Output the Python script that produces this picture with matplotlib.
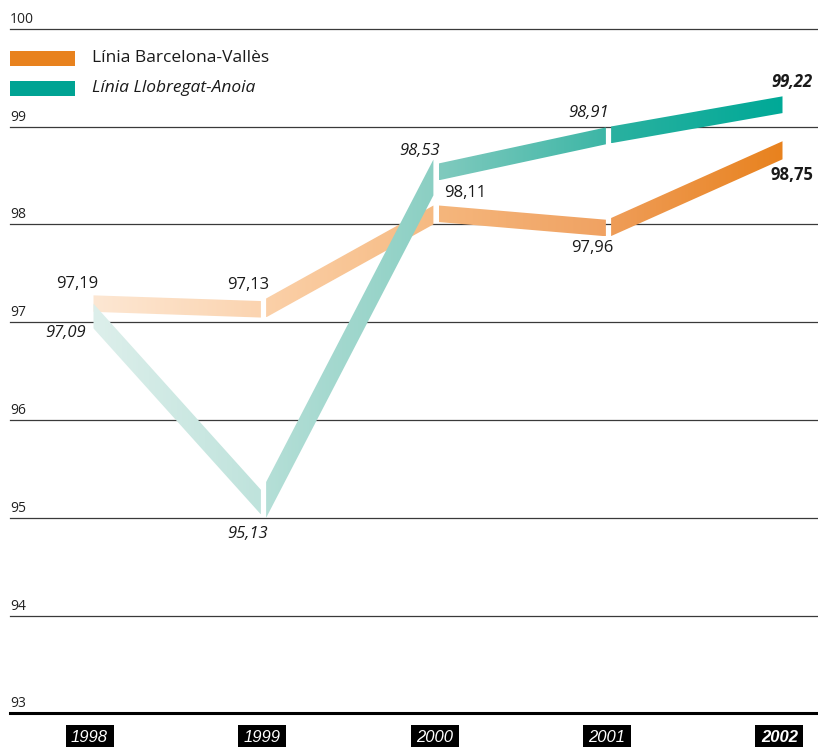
import numpy as np
import matplotlib
matplotlib.use('Agg')
import matplotlib.pyplot as plt
from matplotlib.patches import Polygon, Rectangle
from matplotlib.colors import to_rgb

# data
years = [1998, 1999, 2000, 2001, 2002]
barcelona_valles = [97.19, 97.13, 98.11, 97.96, 98.75]
llobregat_anoia = [97.09, 95.13, 98.53, 98.91, 99.22]
y_ticks = [93, 94, 95, 96, 97, 98, 99, 100]
series_names = ['Línia Barcelona-Vallès', 'Línia Llobregat-Anoia']

W, H = 818, 747
plt.rcParams['font.family'] = ['Open Sans', 'DejaVu Sans']

fig = plt.figure(figsize=(W / 100, H / 100), dpi=100)
ax = fig.add_axes([0, 0, 1, 1])
ax.set_xlim(1998 - 91 / 172.5, 1998 + (W - 91) / 172.5)
ax.set_ylim(93 - (H - 713.3) / 97.8, 93 + 713.3 / 97.8)
ax.axis('off')

# gridlines + y labels
for v in y_ticks:
    if v == 93:
        ax.axhline(v, xmin=10 / W, xmax=1, color='black', lw=2.2, zorder=1)
    else:
        ax.axhline(v, xmin=10 / W, xmax=1, color='#3a3a3a', lw=0.9, zorder=1)
    ax.annotate(str(v), xy=(10 / W, v), xycoords=('axes fraction', 'data'),
                xytext=(0, 4.3), textcoords='offset points', va='baseline',
                ha='left', fontsize=10, color='#222222')

# segment colour ramps (start, end) for each line
orange_ramp = [('#fde7d3', '#fbd4b0'), ('#fbd0a8', '#f6ba82'),
               ('#f5b67c', '#f0a262'), ('#ef9d58', '#e8821e')]
teal_ramp = [('#ddefeb', '#bfe3dc'), ('#b5dfd7', '#8bcfc3'),
             ('#80cabe', '#3db6a6'), ('#2ab1a0', '#00a997')]

fig.canvas.draw()
to_px = ax.transData.transform
to_data = ax.transData.inverted().transform


def ribbon(values, ramp, z, width=16.5, gap=2.6):
    pts = to_px(np.column_stack([years, values]))
    n = len(pts)
    for i in range(n - 1):
        (x0, y0), (x1, y1) = pts[i], pts[i + 1]
        slope = (y1 - y0) / (x1 - x0)
        h = width * np.hypot(1, slope)
        a = gap if i > 0 else 2.5
        b = gap if i < n - 2 else -1.5
        xa, xb = x0 + a, x1 - b
        ya, yb = y0 + slope * a, y1 - slope * b
        quad = to_data(np.array([[xa, ya + h / 2], [xb, yb + h / 2],
                                 [xb, yb - h / 2], [xa, ya - h / 2]]))
        poly = Polygon(quad, closed=True, fc='none', ec='none')
        ax.add_patch(poly)
        c0, c1 = np.array(to_rgb(ramp[i][0])), np.array(to_rgb(ramp[i][1]))
        t = np.linspace(0, 1, 64)[:, None]
        grad = (c0 * (1 - t) + c1 * t)[None, :, :]
        im = ax.imshow(grad, extent=[quad[:, 0].min(), quad[:, 0].max(),
                                     quad[:, 1].min(), quad[:, 1].max()],
                       aspect='auto', origin='lower', zorder=z,
                       interpolation='bilinear')
        im.set_clip_path(poly)


ribbon(barcelona_valles, orange_ramp, 3)
ribbon(llobregat_anoia, teal_ramp, 4)
ax.set_xlim(1998 - 91 / 172.5, 1998 + (W - 91) / 172.5)
ax.set_ylim(93 - (H - 713.3) / 97.8, 93 + 713.3 / 97.8)

# value labels: offsets in pixels (dx right, dy down)
orange_off = [(-14, -20), (-15.5, -24.5), (29.5, -21), (-16, 20), (11, 24)]
teal_off = [(-25.5, 20), (-15.5, 29), (-16, -21.5), (-20, -22), (11, -23)]


def fmt(v):
    return f'{v:.2f}'.replace('.', ',')


for i, (yr, v) in enumerate(zip(years, barcelona_valles)):
    dx, dy = orange_off[i]
    ax.annotate(fmt(v), xy=(yr, v), xytext=(dx * 0.72, -dy * 0.72),
                textcoords='offset points', ha='center', va='center',
                fontsize=12, color='#1a1a1a', zorder=6,
                fontweight='bold' if i == len(years) - 1 else 'normal')
for i, (yr, v) in enumerate(zip(years, llobregat_anoia)):
    dx, dy = teal_off[i]
    ax.annotate(fmt(v), xy=(yr, v), xytext=(dx * 0.72, -dy * 0.72),
                textcoords='offset points', ha='center', va='center',
                fontsize=12, color='#1a1a1a', style='italic', zorder=6,
                fontweight='bold' if i == len(years) - 1 else 'normal')

# year boxes
for i, yr in enumerate(years):
    ax.annotate(str(yr), xy=(yr, 93), xytext=(-1.5 * 0.72, -24.5 * 0.72),
                textcoords='offset points', ha='center', va='center',
                fontsize=12, color='white', style='italic',
                family='Liberation Sans',
                fontweight='bold' if i == len(years) - 1 else 'normal',
                bbox=dict(boxstyle='square,pad=0.33', fc='black', ec='none'))

# legend
leg_colors = ['#e8821e', '#00a393']
for j, (name, col) in enumerate(zip(series_names, leg_colors)):
    top = 50.7 + 30 * j
    ax.add_patch(Rectangle((10 / W, 1 - (top + 15) / H), 65 / W, 15 / H,
                           transform=ax.transAxes, fc=col, ec='none'))
    ax.text(92 / W, 1 - (top + 7.5) / H, name, transform=ax.transAxes,
            ha='left', va='center', fontsize=12.5, color='#1a1a1a',
            style='italic' if j == 1 else 'normal')

fig.savefig('out.png', dpi=100)
